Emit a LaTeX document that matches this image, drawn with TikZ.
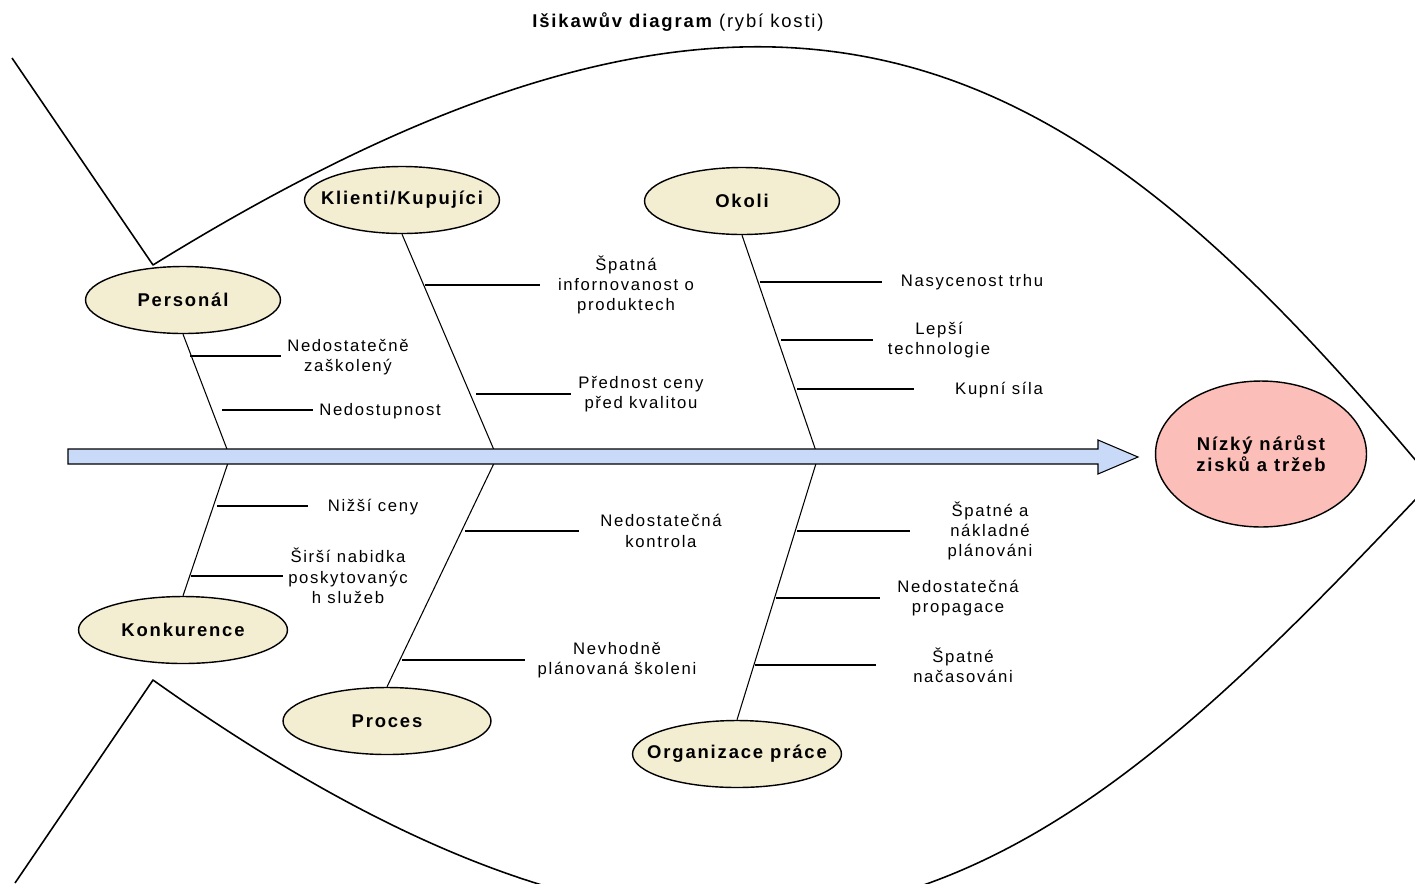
\documentclass[tikz,border=0pt]{standalone}
\usepackage{fontspec}
\setmainfont{Liberation Sans}[LetterSpace=10]
\usetikzlibrary{shapes.geometric}
\definecolor{cream}{RGB}{243,237,210}
\definecolor{headpink}{RGB}{251,190,184}
\definecolor{spineblue}{RGB}{200,218,248}

\begin{document}
\begin{tikzpicture}[x=0.02cm,y=-0.02cm,
  cat/.style={ellipse, draw, line width=0.8pt, fill=cream, inner sep=0pt,
              minimum width=3.9cm, minimum height=1.34cm},
  catlabel/.style={font=\fontsize{10.5}{12}\selectfont\bfseries},
  bone/.style={line width=0.6pt},
  outline/.style={line width=0.9pt, line join=round},
  cause/.style={font=\fontsize{9.5}{11.6}\selectfont, align=center, inner sep=0pt}
]
\useasboundingbox (0,0) rectangle (1415,883);

% fish body and tail
\begin{scope}
  \clip (0,0) rectangle (1415,883);
  \draw[outline] (12,58) -- (153,265)
     .. controls (800,-135) and (1083,61) .. (1433,481)
     .. controls (1083,850) and (800,1140) .. (153,680) -- (15,883);
\end{scope}

% title
\node (title) at (678,22) {\fontsize{10.5}{12}\selectfont\bfseries Išikawův diagram \mdseries(rybí kosti)};

% category ellipses
\node[cat, label={[catlabel]center:Personál}] (pers) at (183,300) {};
\node[cat, label={[catlabel]center:Klienti/Kupujíci}] (klient) at (402,200) {};
\node[cat, label={[catlabel]center:Okoli}] (okoli) at (742,201) {};
\node[cat, minimum width=4.18cm, label={[catlabel]center:Konkurence}] (konk) at (183,630) {};
\node[cat, minimum width=4.16cm, label={[catlabel]center:Proces}] (proces) at (387,721) {};
\node[cat, minimum width=4.18cm, label={[catlabel]center:Organizace práce}] (org) at (737,754) {};

% points where the bones meet the spine
\coordinate (s1) at (230,457);
\coordinate (s2) at (497,457);
\coordinate (s3) at (818,457);

% main bones
\draw[bone] (pers.south) -- (s1);
\draw[bone] (konk.north) -- (s1);
\draw[bone] (klient.south) -- (s2);
\draw[bone] (proces.north) -- (s2);
\draw[bone] (okoli.south) -- (s3);
\draw[bone] (org.north) -- (s3);

% side bones: start on the main bone, end before the cause text
\coordinate (a1) at (190,356);  \coordinate (a1e) at (281,356);
\coordinate (a2) at (222,410);  \coordinate (a2e) at (313,410);
\coordinate (b1) at (217,506);  \coordinate (b1e) at (308,506);
\coordinate (b2) at (191,576);  \coordinate (b2e) at (283,576);
\coordinate (c1) at (425,285);  \coordinate (c1e) at (540,285);
\coordinate (c2) at (476,394);  \coordinate (c2e) at (571,394);
\coordinate (d1) at (465,531);  \coordinate (d1e) at (579,531);
\coordinate (d2) at (402,660);  \coordinate (d2e) at (525,660);
\coordinate (e1) at (760,282);  \coordinate (e1e) at (882,282);
\coordinate (e2) at (781,340);  \coordinate (e2e) at (873,340);
\coordinate (e3) at (797,389);  \coordinate (e3e) at (914,389);
\coordinate (f1) at (797,531);  \coordinate (f1e) at (910,531);
\coordinate (f2) at (776,598);  \coordinate (f2e) at (880,598);
\coordinate (f3) at (755,665);  \coordinate (f3e) at (876,665);
\foreach \p in {a1,a2,b1,b2,c1,c2,d1,d2,e1,e2,e3,f1,f2,f3}
  \draw[bone] (\p) -- (\p e);

% cause texts
\node[cause] (ta1) at (348,357) {Nedostatečně\\zaškolený};
\node[cause] (ta2) at (380,411) {Nedostupnost};
\node[cause] (tb1) at (373,507) {Nižší ceny};
\node[cause] (tb2) at (348,576) {Širší nabidka\\poskytovanýc\\h služeb};
\node[cause] (tc1) at (626,285) {Špatná\\infornovanost o\\produktech};
\node[cause] (tc2) at (641,394) {Přednost ceny\\před kvalitou};
\node[cause] (td1) at (661,531) {Nedostatečná\\kontrola};
\node[cause] (td2) at (617,660) {Nevhodně\\plánovaná školeni};
\node[cause] (te1) at (972,282) {Nasycenost trhu};
\node[cause] (te2) at (939,340) {Lepší\\technologie};
\node[cause] (te3) at (999,390) {Kupní síla};
\node[cause] (tf1) at (990,531) {Špatné a\\nákladné\\plánováni};
\node[cause] (tf2) at (958,598) {Nedostatečná\\propagace};
\node[cause] (tf3) at (963,665) {Špatné\\načasováni};

% spine arrow
\coordinate (spinetail) at (68,457);
\coordinate (spinetip) at (1138,457);
\draw[line width=0.6pt, fill=spineblue, line join=miter]
  ([yshift=8*0.02cm]spinetail) -- (1098,449) -- (1098,440) -- (spinetip)
  -- (1098,474) -- (1098,464) -- ([yshift=-7*0.02cm]spinetail) -- cycle;

% effect
\node[ellipse, draw, line width=0.8pt, fill=headpink, minimum width=4.22cm,
      minimum height=2.92cm, align=center,
      font=\fontsize{10.5}{11.9}\selectfont\bfseries] (head) at (1261,454)
  {Nízký nárůst\\zisků a tržeb};
\end{tikzpicture}
\end{document}
